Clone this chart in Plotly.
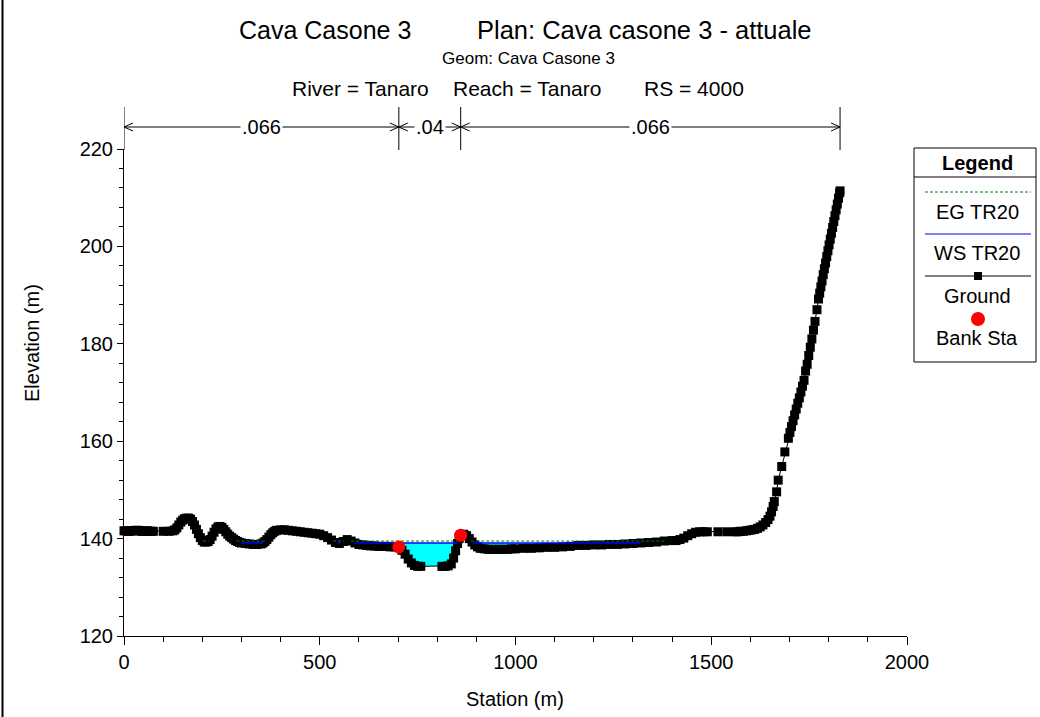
import numpy as np
import plotly.graph_objects as go

# Cross-section ground points: station (m) and elevation (m)
station = [
    0, 5, 10, 15, 20, 25, 30, 35, 40, 45, 50, 55, 60, 65, 70, 75,
    100, 115,
    125, 130, 135, 140, 145, 150, 155, 160, 165, 170, 175, 180, 185, 190, 195,
    200, 205, 210, 215, 220, 225, 230, 235, 240, 245, 250, 255, 260, 265, 270,
    275, 280, 285, 290, 295, 300, 310, 320, 330, 340, 350, 355, 360, 365, 370,
    375, 380, 385, 390, 400, 410, 420, 430, 440, 450, 460, 470, 480, 490, 500,
    510, 520, 530, 540, 550, 560, 570, 580, 590, 600, 610, 620, 630, 640, 650,
    660, 670, 680, 690, 702,
    710, 718, 726, 734, 742, 750, 758,
    812, 820, 828, 836, 842, 847, 852, 856, 860,
    868, 875, 882, 889, 896, 903, 910, 920, 930, 940, 950, 960, 970, 980, 990,
    1000, 1020, 1040, 1060, 1080, 1100, 1120, 1140, 1160, 1180, 1200, 1220,
    1240, 1260, 1280, 1300, 1320, 1340, 1360, 1380, 1400, 1410, 1420, 1430,
    1440, 1450, 1460, 1470, 1480, 1490,
    1517, 1540, 1561, 1568, 1575, 1582, 1590, 1597, 1604, 1611, 1618, 1625,
    1632, 1639, 1645, 1650, 1654, 1658, 1661,
    1667, 1671, 1680, 1688, 1697,
    1701, 1705, 1709, 1713, 1717, 1721, 1725, 1729, 1733, 1737,
    1741, 1745, 1749, 1753, 1757, 1761, 1765,
    1770,
    1774, 1777, 1780, 1783, 1786, 1789, 1792, 1795, 1798, 1801, 1804, 1807,
    1810, 1813, 1816, 1819, 1822, 1825, 1828, 1829,
]
elevation = [
    141.6, 141.6, 141.5, 141.5, 141.6, 141.6, 141.7, 141.7, 141.6, 141.5,
    141.5, 141.6, 141.6, 141.5, 141.5, 141.5,
    141.5, 141.5,
    141.6, 141.8, 142.2, 142.8, 143.4, 143.8, 144.1, 144.2, 144.2, 144.0,
    143.5, 142.8, 141.9, 141.0, 140.2,
    139.6, 139.3, 139.3, 139.4, 139.8, 140.5, 141.3, 142.0, 142.4, 142.5,
    142.3, 141.9, 141.4, 140.9, 140.5,
    140.2, 139.9, 139.6, 139.4, 139.2, 139.1, 139.0, 138.9, 138.8, 138.8,
    138.9, 139.1, 139.4, 139.8, 140.3,
    140.8, 141.2, 141.5, 141.7, 141.8, 141.8, 141.7, 141.6, 141.5, 141.4,
    141.3, 141.2, 141.1, 141.0, 140.9,
    140.6, 140.2, 139.7, 139.2, 139.0, 139.4, 139.8, 139.5, 139.1, 138.8,
    138.7, 138.6, 138.5, 138.5, 138.4,
    138.4, 138.4, 138.3, 138.3, 138.3,
    137.6, 136.8, 135.8, 135.0, 134.5, 134.3, 134.3,
    134.3, 134.3, 134.4, 134.8, 136.0, 137.5, 139.0, 140.0, 140.7,
    140.9, 140.6, 140.0, 139.3, 138.7, 138.3, 138.0, 137.9, 137.8, 137.8,
    137.8, 137.8, 137.8, 137.8, 137.9,
    137.9, 138.0, 138.0, 138.1, 138.2, 138.2, 138.3, 138.4, 138.6, 138.6,
    138.7, 138.7,
    138.8, 138.8, 138.9, 139.0, 139.1, 139.2, 139.3, 139.5, 139.6, 139.6,
    139.8, 140.1,
    140.6, 141.0, 141.3, 141.4, 141.4, 141.4,
    141.4, 141.4, 141.4, 141.4, 141.5, 141.5, 141.6, 141.7, 141.8, 141.9,
    142.1, 142.4,
    142.8, 143.3, 143.9, 144.6, 145.5, 146.6, 147.6,
    149.6, 152.0, 154.8, 157.8, 160.6,
    161.8, 163.0, 164.2, 165.4, 166.6, 167.8, 168.9, 170.1, 171.3, 172.5,
    174.4, 175.8, 177.6, 179.3, 181.0, 182.8, 184.6,
    187.0,
    189.2, 190.4, 191.7, 192.9, 194.2, 195.4, 196.6, 197.9, 199.1, 200.3,
    201.5, 202.7,
    203.9, 205.1, 206.3, 207.5, 208.7, 209.9, 211.0, 211.4,
]

bank_sta = [702, 860]
ws_elev = 139.1      # WS TR20
eg_elev = 139.5      # EG TR20
n_values = [0.066, 0.04, 0.066]

x_ticks = [0, 500, 1000, 1500, 2000]
y_ticks = [120, 140, 160, 180, 200, 220]

FONT = "Arial, Liberation Sans, sans-serif"

# plot area in page pixels
L, R, T, B = 124, 907, 149, 636
W, H = 1040, 717


def px2x(px):
    return (px - L) / (R - L)


def py2y(py):
    return (B - py) / (B - T)


def wet_parts(xs, zs, level):
    """Split the section into runs where the ground is below `level`."""
    parts, cur = [], None
    for i, (x, z) in enumerate(zip(xs, zs)):
        if z < level:
            if cur is None:
                if i == 0:
                    cur = [(x, level)]
                else:
                    x0, z0 = xs[i - 1], zs[i - 1]
                    cur = [(x0 + (level - z0) * (x - x0) / (z - z0), level)]
            cur.append((x, z))
        elif cur is not None:
            x0, z0 = xs[i - 1], zs[i - 1]
            cur.append((x0 + (level - z0) * (x - x0) / (z - z0), level))
            parts.append(cur)
            cur = None
    if cur is not None:
        cur.append((xs[-1], level))
        parts.append(cur)
    return parts


def level_line(parts):
    xs, ys = [], []
    for p in parts:
        xs += [p[0][0], p[-1][0], None]
        ys += [p[0][1], p[-1][1], None]
    return xs, ys


ws_parts = wet_parts(station, elevation, ws_elev)
eg_parts = wet_parts(station, elevation, eg_elev)

fill_x, fill_y = [], []
for p in ws_parts:
    fill_x += [q[0] for q in p] + [None]
    fill_y += [q[1] for q in p] + [None]

bank_z = list(np.interp(bank_sta, station, elevation))

fig = go.Figure()

fig.add_trace(go.Scatter(
    x=fill_x, y=fill_y, mode="lines", fill="toself", fillcolor="#00FFFF",
    line=dict(width=0, color="#00FFFF"), hoverinfo="skip", showlegend=False,
))
fig.add_trace(go.Scatter(
    x=station, y=elevation, mode="lines+markers", name="Ground",
    line=dict(color="black", width=1),
    marker=dict(symbol="square", size=9, color="black", line=dict(width=0)),
    cliponaxis=False, showlegend=False,
))
wx, wy = level_line(ws_parts)
fig.add_trace(go.Scatter(
    x=wx, y=wy, mode="lines", name="WS TR20",
    line=dict(color="#0000FF", width=1.5), showlegend=False,
))
ex, ey = level_line(eg_parts)
fig.add_trace(go.Scatter(
    x=ex, y=ey, mode="lines", name="EG TR20",
    line=dict(color="#008000", width=1, dash="3px,2px"), showlegend=False,
))
fig.add_trace(go.Scatter(
    x=bank_sta, y=bank_z, mode="markers", name="Bank Sta",
    marker=dict(symbol="circle", size=13, color="#FF0000", line=dict(width=0)),
    cliponaxis=False, showlegend=False,
))

shapes = []
annotations = []

# Manning's n dimension bar above the plot
breaks = [station[0]] + bank_sta + [station[-1]]
dim_y = py2y(127)
shapes.append(dict(type="line", xref="x", yref="paper", x0=breaks[0], x1=breaks[-1],
                   y0=dim_y, y1=dim_y, line=dict(color="black", width=1)))
ah = 4 / (B - T)
for i, b in enumerate(breaks):
    shapes.append(dict(type="line", xref="x", yref="paper", x0=b, x1=b,
                       y0=py2y(150), y1=py2y(107), line=dict(color="black", width=1)))
    heads = []
    if i > 0:
        heads.append(-9)   # arrow arriving from the left
    if i < len(breaks) - 1:
        heads.append(9)    # arrow arriving from the right
    for d in heads:
        for s in (1, -1):
            shapes.append(dict(type="line", xref="x", yref="paper",
                               xsizemode="pixel", xanchor=b, x0=0, x1=d,
                               y0=dim_y, y1=dim_y + s * ah,
                               line=dict(color="black", width=1)))
for i, n in enumerate(n_values):
    annotations.append(dict(
        x=(breaks[i] + breaks[i + 1]) / 2, y=dim_y, xref="x", yref="paper",
        text=("%g" % n).lstrip("0"), showarrow=False, bgcolor="white",
        font=dict(family=FONT, size=20, color="black"),
        xanchor="center", yanchor="middle", borderpad=1,
    ))

# Titles
def text(x, y, s, size, xanchor="center", bold=False, angle=0):
    annotations.append(dict(
        x=px2x(x), y=py2y(y), xref="paper", yref="paper",
        text=("<b>%s</b>" % s) if bold else s, showarrow=False,
        font=dict(family=FONT, size=size, color="black"),
        xanchor=xanchor, yanchor="middle", textangle=angle,
    ))


text(237, 30, "Cava Casone 3", 25, xanchor="left")
text(475, 30, "Plan: Cava casone 3 - attuale", 25.5, xanchor="left")
text(528, 58, "Geom: Cava Casone 3", 17)
text(290, 89, "River = Tanaro", 21, xanchor="left")
text(451, 89, "Reach = Tanaro", 21, xanchor="left")
text(642, 89, "RS = 4000", 21, xanchor="left")

# Axis titles
text(515, 699, "Station (m)", 20)
text(32, 343, "Elevation (m)", 20, angle=-90)

# Legend box
lx0, lx1, ly0, ly1 = 914, 1036, 148, 362
shapes.append(dict(type="rect", xref="paper", yref="paper",
                   x0=px2x(lx0), x1=px2x(lx1), y0=py2y(ly1), y1=py2y(ly0),
                   line=dict(color="black", width=1), fillcolor="white"))
shapes.append(dict(type="line", xref="paper", yref="paper",
                   x0=px2x(lx0), x1=px2x(lx1), y0=py2y(177), y1=py2y(177),
                   line=dict(color="black", width=1)))
text(977, 163, "Legend", 20, bold=True)


def legend_line(py, color, dash="solid"):
    shapes.append(dict(type="line", xref="paper", yref="paper",
                       x0=px2x(925), x1=px2x(1031), y0=py2y(py), y1=py2y(py),
                       line=dict(color=color, width=1, dash=dash)))


legend_line(192, "#008000", "3px,2px")
text(977, 212, "EG TR20", 20)
legend_line(234, "#0000FF")
text(977, 253, "WS TR20", 20)
legend_line(276, "black")
shapes.append(dict(type="rect", xref="paper", yref="paper",
                   xsizemode="pixel", ysizemode="pixel",
                   xanchor=px2x(978), yanchor=py2y(276),
                   x0=-4, x1=4, y0=-4, y1=4,
                   line=dict(width=0), fillcolor="black"))
text(977, 296, "Ground", 20)
shapes.append(dict(type="circle", xref="paper", yref="paper",
                   xsizemode="pixel", ysizemode="pixel",
                   xanchor=px2x(978), yanchor=py2y(319),
                   x0=-7, x1=7, y0=-7, y1=7,
                   line=dict(width=0), fillcolor="#FF0000"))
text(977, 338, "Bank Sta", 20)

# Left frame edge
shapes.append(dict(type="line", xref="paper", yref="paper",
                   x0=px2x(2.5), x1=px2x(2.5), y0=py2y(H), y1=py2y(0),
                   line=dict(color="black", width=2)))

fig.update_layout(
    width=W, height=H,
    margin=dict(l=L, r=W - R, t=T, b=H - B, pad=0),
    paper_bgcolor="white", plot_bgcolor="white",
    showlegend=False,
    shapes=shapes, annotations=annotations,
    font=dict(family=FONT, size=20, color="black"),
    xaxis=dict(
        range=[0, 2000], tickvals=x_ticks, ticktext=[str(v) for v in x_ticks],
        showline=True, linecolor="black", linewidth=1,
        ticks="outside", ticklen=8, tickwidth=1, tickcolor="black",
        minor=dict(dtick=100, tick0=0, ticks="outside", ticklen=5,
                   tickcolor="black", showgrid=False),
        showgrid=False, zeroline=False,
        tickfont=dict(family=FONT, size=20, color="black"),
    ),
    yaxis=dict(
        range=[120, 220], tickvals=y_ticks, ticktext=[str(v) for v in y_ticks],
        showline=True, linecolor="black", linewidth=1,
        ticks="outside", ticklen=6, tickwidth=1, tickcolor="black",
        minor=dict(dtick=4, tick0=120, ticks="outside", ticklen=4,
                   tickcolor="black", showgrid=False),
        showgrid=False, zeroline=False,
        tickfont=dict(family=FONT, size=20, color="black"),
    ),
)

fig.write_html("out.html")
